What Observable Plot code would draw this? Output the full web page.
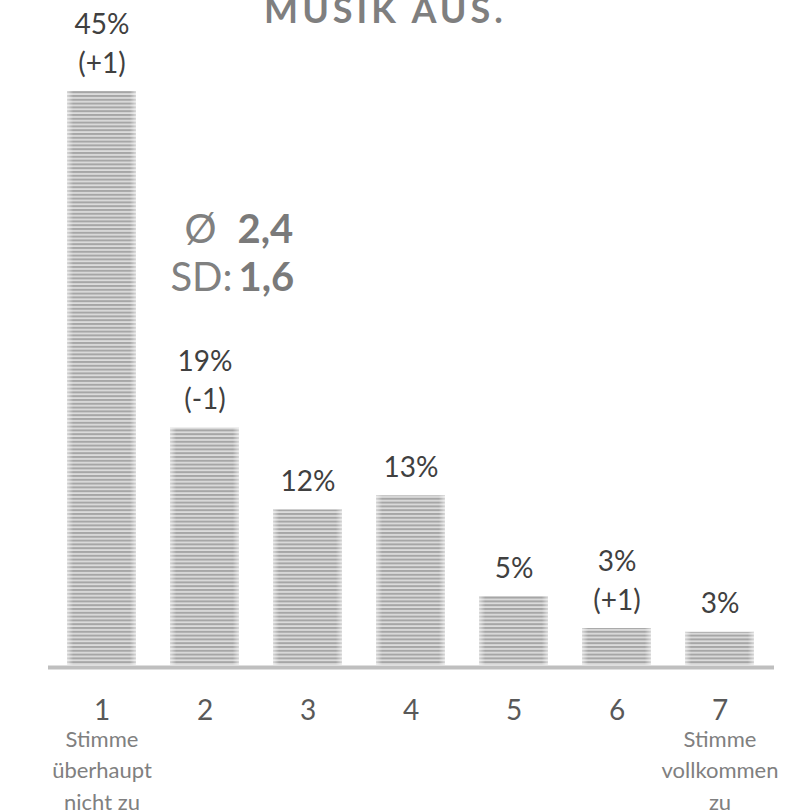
<!DOCTYPE html>
<html>
<head>
<meta charset="utf-8">
<script src="https://cdn.jsdelivr.net/npm/d3@7"></script>
<script src="https://cdn.jsdelivr.net/npm/@observablehq/plot@0.6"></script>
<style>
  html, body { margin: 0; padding: 0; background: #ffffff; }
  #chart { width: 799px; height: 811px; overflow: hidden; }
</style>
</head>
<body>
<div id="chart"></div>
<script>
// ---- data ----
const categories = ["1", "2", "3", "4", "5", "6", "7"];
const shares = [45, 18.6, 12.2, 13.3, 5.4, 2.9, 2.6];
const shareLabels = ["45%", "19%", "12%", "13%", "5%", "3%", "3%"];
const changeLabels = ["(+1)", "(-1)", "", "", "", "(+1)", ""];
const leftEndLabel = ["Stimme", "überhaupt", "nicht zu"];
const rightEndLabel = ["Stimme", "vollkommen", "zu"];
const titleText = "MUSIK AUS.";
const meanSymbol = "Ø";
const meanValue = "2,4";
const sdSymbol = "SD:";
const sdValue = "1,6";

const rows = categories.map((c, i) => ({
  cat: c,
  share: shares[i],
  label: changeLabels[i] ? shareLabels[i] + "\n" + changeLabels[i] : shareLabels[i]
}));
const endLabels = [
  {cat: categories[0], text: leftEndLabel.join("\n")},
  {cat: categories[categories.length - 1], text: rightEndLabel.join("\n")}
];

const chart = Plot.plot({
  width: 799,
  height: 811,
  marginLeft: 48,
  marginRight: 25,
  marginTop: 91,
  marginBottom: 146,
  style: {fontFamily: "Lato, 'Open Sans', sans-serif", background: "#ffffff", overflow: "visible"},
  x: {domain: categories, paddingInner: 0.326, paddingOuter: 0.163, label: null},
  y: {domain: [0, 45], axis: null},
  marks: [
    Plot.barY(rows, {x: "cat", y: "share", fill: "url(#stripes)"}),
    Plot.barY(rows, {x: "cat", y: "share", fill: "url(#edgeFade)"}),
    Plot.ruleY([0], {stroke: "#bfbfbf", strokeWidth: 4, dy: 2}),
    Plot.text(rows, {x: "cat", y: "share", text: "label", lineAnchor: "bottom", lineHeight: 1.36, dy: -19, fontSize: 28, fill: "#404040"}),
    Plot.axisX({tickSize: 0, tickPadding: 35, fontSize: 28, fill: "#595959", label: null}),
    Plot.text(endLabels, {x: "cat", frameAnchor: "bottom", text: "text", lineAnchor: "bottom", lineHeight: 1.41, dy: 144, fontSize: 22, fill: "#808080"}),
    Plot.text([titleText], {frameAnchor: "top", dx: -26, dy: -69, lineAnchor: "bottom", fontSize: 36, fontWeight: "bold", fill: "#7f7f7f"}),
    Plot.text([meanSymbol], {frameAnchor: "top-left", dx: 168, dy: 151, lineAnchor: "bottom", textAnchor: "end", fontSize: 40, fill: "#808080"}),
    Plot.text([meanValue], {frameAnchor: "top-left", dx: 189, dy: 151, lineAnchor: "bottom", textAnchor: "start", fontSize: 40, fontWeight: "bold", fill: "#7a7a7a"}),
    Plot.text([sdSymbol], {frameAnchor: "top-left", dx: 184, dy: 199, lineAnchor: "bottom", textAnchor: "end", fontSize: 40, fill: "#808080"}),
    Plot.text([sdValue], {frameAnchor: "top-left", dx: 190, dy: 199, lineAnchor: "bottom", textAnchor: "start", fontSize: 40, fontWeight: "bold", fill: "#7a7a7a"})
  ]
});

// pattern + gradient definitions for the striped bars
const svg = d3.select(chart);
const defs = svg.insert("defs", ":first-child");
const pat = defs.append("pattern")
  .attr("id", "stripes")
  .attr("patternUnits", "userSpaceOnUse")
  .attr("width", 8)
  .attr("height", 3.8);
pat.append("rect").attr("width", 8).attr("height", 3.8).attr("fill", "#dcdcdc");
pat.append("rect").attr("width", 8).attr("height", 2).attr("fill", "#a6a6a6");
const grad = defs.append("linearGradient")
  .attr("id", "edgeFade")
  .attr("x1", 0).attr("x2", 1).attr("y1", 0).attr("y2", 0);
[[0, 0.55], [0.09, 0], [0.91, 0], [1, 0.55]].forEach(([o, a]) => {
  grad.append("stop").attr("offset", o).attr("stop-color", "#ffffff").attr("stop-opacity", a);
});

// letter spacing on the title
svg.selectAll("text").filter(function() { return this.textContent === titleText; })
  .style("letter-spacing", "4px");

document.getElementById("chart").appendChild(chart);
</script>
</body>
</html>
